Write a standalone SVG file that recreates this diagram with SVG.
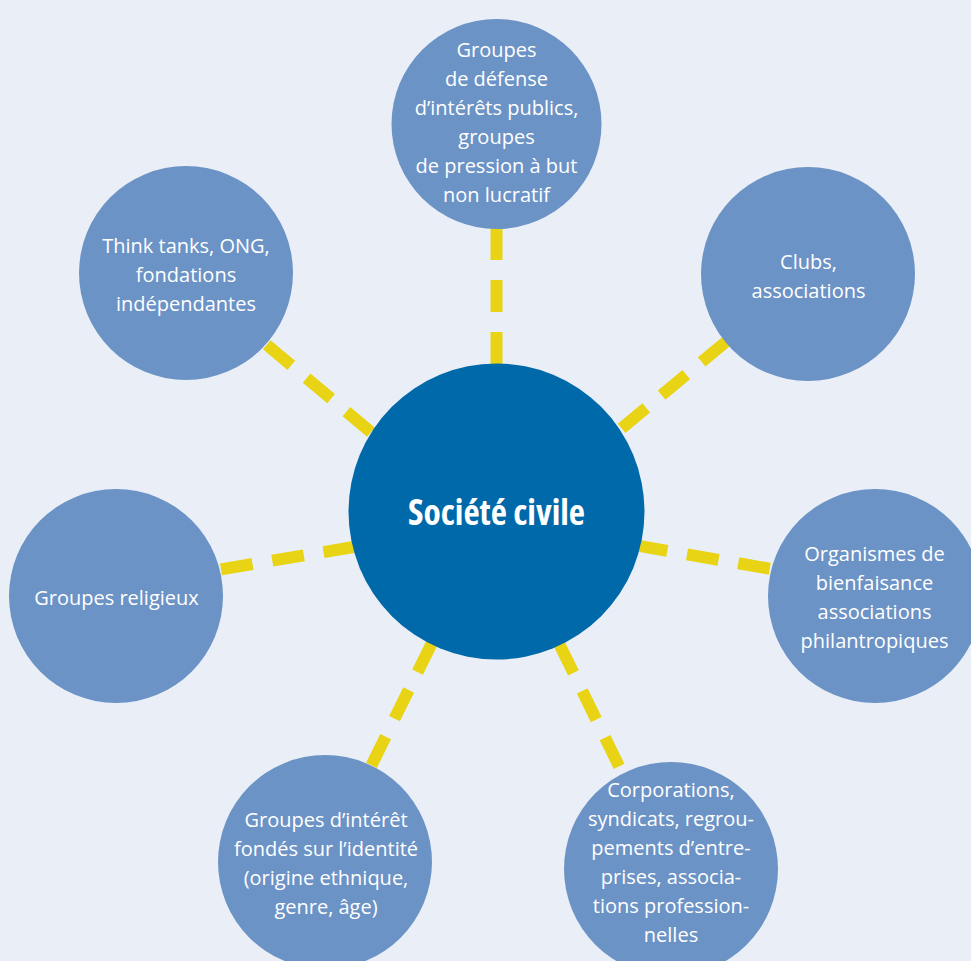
<svg xmlns="http://www.w3.org/2000/svg" width="971" height="961" viewBox="0 0 971 961">
<style>
.bg{fill:#EAEFF7}
.node{fill:#6C93C6}
.hub{fill:#0069AA}
.lbl{font-family:"Open Sans","Liberation Sans",sans-serif;font-size:20px;fill:#FFFFFF;text-anchor:middle}
.hubl{font-family:"Open Sans","Liberation Sans",sans-serif;font-weight:bold;font-size:36px;font-stretch:condensed;fill:#FFFFFF;text-anchor:middle}
.conn{stroke:#E8D415;stroke-width:12;stroke-dasharray:32 20;fill:none}
</style>
<rect class="bg" x="0" y="0" width="971" height="961"/>
<g id="connectors">
<line class="conn" x1="496.5" y1="176" x2="496.5" y2="380"/>
<line class="conn" x1="226.9" y1="311.3" x2="410.8" y2="465.6"/>
<line class="conn" x1="766.3" y1="308.3" x2="581.7" y2="461.4"/>
<line class="conn" x1="169.7" y1="578" x2="406.3" y2="538.1"/>
<line class="conn" x1="821" y1="577.7" x2="584.6" y2="536.4"/>
<line class="conn" x1="348.4" y1="811.9" x2="454.7" y2="596.9"/>
<line class="conn" x1="641.9" y1="813.1" x2="536.5" y2="597.4"/>
</g>
<g id="hub">
<circle class="hub" cx="496.5" cy="511.5" r="148"/>
<text class="hubl" x="496.5" y="525" textLength="177" lengthAdjust="spacingAndGlyphs">Société civile</text>
</g>
<g id="node-top">
<circle class="node" cx="496.5" cy="124" r="105"/>
<text class="lbl" x="496.5" y="57">Groupes</text>
<text class="lbl" x="496.5" y="86">de défense</text>
<text class="lbl" x="496.5" y="115">d’intérêts publics,</text>
<text class="lbl" x="496.5" y="144">groupes</text>
<text class="lbl" x="496.5" y="173">de pression à but</text>
<text class="lbl" x="496.5" y="202">non lucratif</text>
</g>
<g id="node-thinktanks">
<circle class="node" cx="186" cy="273" r="107"/>
<text class="lbl" x="186" y="253">Think tanks, ONG,</text>
<text class="lbl" x="186" y="282">fondations</text>
<text class="lbl" x="186" y="311">indépendantes</text>
</g>
<g id="node-clubs">
<circle class="node" cx="808" cy="274" r="107"/>
<text class="lbl" x="808.5" y="269">Clubs,</text>
<text class="lbl" x="808.5" y="298">associations</text>
</g>
<g id="node-religieux">
<circle class="node" cx="116" cy="596" r="107"/>
<text class="lbl" x="116.5" y="605">Groupes religieux</text>
</g>
<g id="node-organismes">
<circle class="node" cx="875" cy="596" r="107"/>
<text class="lbl" x="874.5" y="561">Organismes de</text>
<text class="lbl" x="874.5" y="590">bienfaisance</text>
<text class="lbl" x="874.5" y="619">associations</text>
<text class="lbl" x="874.5" y="648">philantropiques</text>
</g>
<g id="node-identite">
<circle class="node" cx="325" cy="862" r="107"/>
<text class="lbl" x="326" y="827">Groupes d’intérêt</text>
<text class="lbl" x="326" y="856">fondés sur l’identité</text>
<text class="lbl" x="326" y="885">(origine ethnique,</text>
<text class="lbl" x="326" y="914">genre, âge)</text>
</g>
<g id="node-corporations">
<circle class="node" cx="671" cy="869" r="107"/>
<text class="lbl" x="671" y="797">Corporations,</text>
<text class="lbl" x="671" y="826">syndicats, regrou-</text>
<text class="lbl" x="671" y="855">pements d’entre-</text>
<text class="lbl" x="671" y="884">prises, associa-</text>
<text class="lbl" x="671" y="913">tions profession-</text>
<text class="lbl" x="671" y="942">nelles</text>
</g>
</svg>
